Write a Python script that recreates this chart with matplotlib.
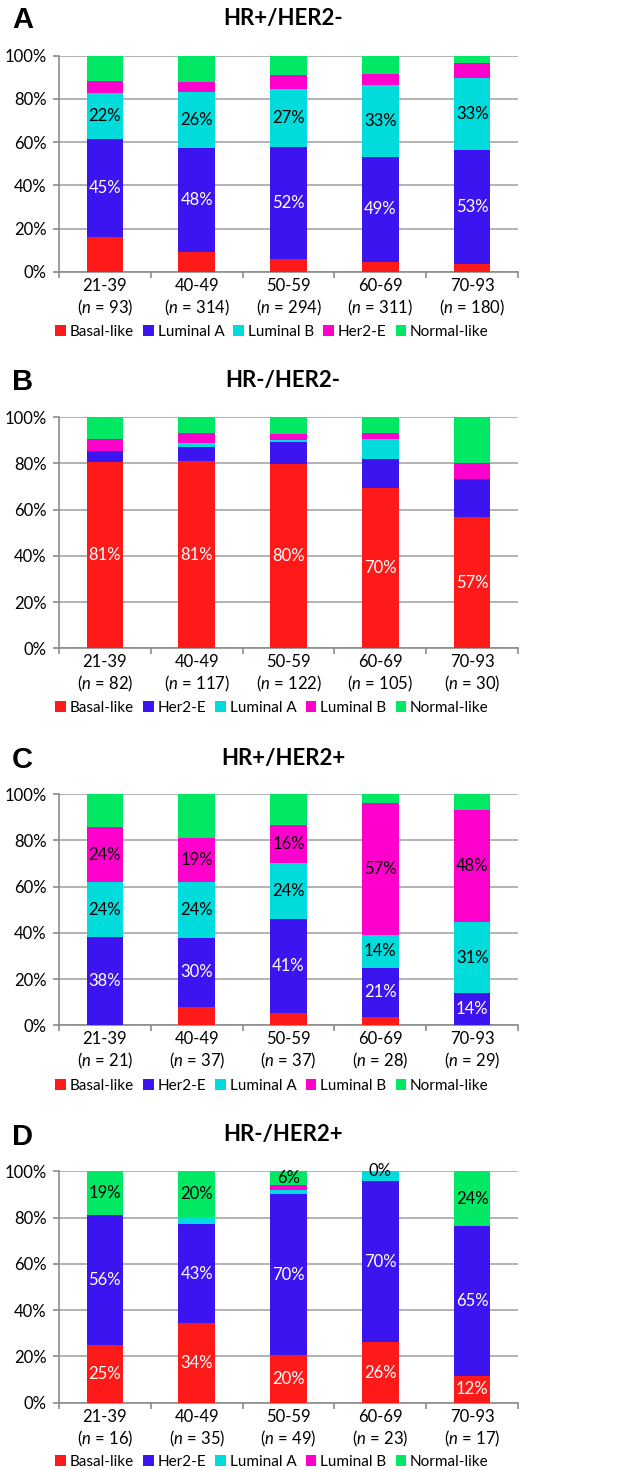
import numpy as np
import matplotlib
matplotlib.use("Agg")
import matplotlib.pyplot as plt
from matplotlib.patches import Patch

plt.rcParams['font.family'] = ['Lato', 'DejaVu Sans']
plt.rcParams['mathtext.fontset'] = 'custom'
plt.rcParams['mathtext.rm'] = 'Lato'
plt.rcParams['mathtext.it'] = 'Lato:italic'

ages = ["21-39", "40-49", "50-59", "60-69", "70-93"]

# panel A: HR+/HER2-
a_n = [93, 314, 294, 311, 180]
a_basal = [16.1, 9.2, 6.2, 4.5, 3.9]
a_luma = [45.2, 48.1, 51.6, 48.8, 52.7]
a_lumb = [21.6, 25.8, 26.8, 33.1, 33.1]
a_her2 = [5.4, 4.8, 6.6, 5.1, 7.1]
a_normal = [11.7, 12.1, 8.8, 8.5, 3.2]

# panel B: HR-/HER2-
b_n = [82, 117, 122, 105, 30]
b_basal = [80.6, 81.2, 79.6, 69.5, 56.7]
b_her2 = [4.8, 6.0, 9.7, 12.3, 16.7]
b_luma = [0, 1.7, 1.0, 8.7, 0]
b_lumb = [5.0, 4.3, 2.3, 2.9, 6.7]
b_normal = [9.6, 6.8, 7.4, 6.6, 19.9]

# panel C: HR+/HER2+
c_n = [21, 37, 37, 28, 29]
c_basal = [0, 8.1, 5.4, 3.6, 0]
c_her2 = [38.1, 29.7, 40.6, 21.4, 13.8]
c_luma = [23.8, 24.3, 24.3, 14.3, 31.0]
c_lumb = [23.8, 18.9, 16.2, 57.1, 48.3]
c_normal = [14.3, 19.0, 13.5, 3.6, 6.9]

# panel D: HR-/HER2+
d_n = [16, 35, 49, 23, 17]
d_basal = [25.0, 34.3, 20.4, 26.1, 11.7]
d_her2 = [56.2, 42.9, 69.6, 69.6, 64.7]
d_luma = [0, 2.9, 2.0, 4.3, 0]
d_lumb = [0, 0, 2.0, 0, 0]
d_normal = [18.8, 19.9, 6.0, 0, 23.6]

# colours differ between panel A and the others
fill_a = {"Basal-like": "#FF1A1A", "Luminal A": "#3C14F0", "Luminal B": "#00DCDC",
          "Her2-E": "#FF00CC", "Normal-like": "#00E864"}
fill_b = {"Basal-like": "#FF1A1A", "Her2-E": "#3C14F0", "Luminal A": "#00DCDC",
          "Luminal B": "#FF00CC", "Normal-like": "#00E864"}

panels = [
    ("A", "HR+/HER2-", a_n,
     [("Basal-like", a_basal), ("Luminal A", a_luma), ("Luminal B", a_lumb),
      ("Her2-E", a_her2), ("Normal-like", a_normal)],
     fill_a, ["Luminal A", "Luminal B"]),
    ("B", "HR-/HER2-", b_n,
     [("Basal-like", b_basal), ("Her2-E", b_her2), ("Luminal A", b_luma),
      ("Luminal B", b_lumb), ("Normal-like", b_normal)],
     fill_b, ["Basal-like"]),
    ("C", "HR+/HER2+", c_n,
     [("Basal-like", c_basal), ("Her2-E", c_her2), ("Luminal A", c_luma),
      ("Luminal B", c_lumb), ("Normal-like", c_normal)],
     fill_b, ["Her2-E", "Luminal A", "Luminal B"]),
    ("D", "HR-/HER2+", d_n,
     [("Basal-like", d_basal), ("Her2-E", d_her2), ("Luminal A", d_luma),
      ("Luminal B", d_lumb), ("Normal-like", d_normal)],
     fill_b, ["Basal-like", "Her2-E", "Normal-like"]),
]

# axes boxes in pixels: top, bottom
boxes = [(55.7, 272.0), (417.3, 648.3), (794.3, 1025.3), (1171.3, 1402.7)]
title_y = [18, 380, 758, 1135]
legend_y = [332, 708, 1086, 1462]

W, H = 630, 1470
fig = plt.figure(figsize=(W / 100, H / 100), dpi=100)

grid_c = "#A6A6A6"
axis_c = "#8C8C8C"
white_on = ("#FF1A1A", "#3C14F0")

for (letter, title, ns, series, fills, labelled), (top, bot), ty, ly in zip(panels, boxes, title_y, legend_y):
    ax = fig.add_axes([59 / W, 1 - bot / H, 459 / W, (bot - top) / H])
    x = np.arange(len(ages))
    bottom = np.zeros(len(ages))
    for name, vals in series:
        vals = np.array(vals, dtype=float)
        ax.bar(x, vals, 0.4, bottom=bottom, color=fills[name], zorder=3, linewidth=0)
        if name in labelled:
            tc = "white" if fills[name] in white_on else "black"
            for xi, b, v in zip(x, bottom, vals):
                ax.text(xi, b + v / 2, f"{v:.0f}%", ha="center", va="center",
                        fontsize=12, color=tc, zorder=4)
        bottom = bottom + vals

    ax.set_xlim(-0.5, len(ages) - 0.5)
    ax.set_ylim(0, 100)
    ax.set_yticks(np.arange(0, 101, 20))
    ax.set_yticklabels([f"{t}%" for t in range(0, 101, 20)], fontsize=12)
    ax.yaxis.grid(True, color=grid_c, linewidth=1.2, zorder=0)
    ax.set_xticks(x)
    ax.set_xticklabels([])
    for xi, a, n in zip(x, ages, ns):
        ax.annotate(a, xy=(xi, 0), xycoords=("data", "axes fraction"),
                    xytext=(0, -14), textcoords="offset pixels",
                    ha="center", va="center", fontsize=12)
        ax.annotate(f"($\\mathit{{n}}$ = {n})", xy=(xi, 0), xycoords=("data", "axes fraction"),
                    xytext=(0, -36), textcoords="offset pixels",
                    ha="center", va="center", fontsize=12)
    ax.set_xticks(np.arange(-0.5, len(ages)), minor=True)
    ax.tick_params(axis="x", which="major", length=0)
    ax.tick_params(axis="x", which="minor", length=4, color=axis_c, width=1.2)
    ax.tick_params(axis="y", length=4, color=axis_c, width=1.2, pad=5)
    for s in ("top", "right"):
        ax.spines[s].set_visible(False)
    for s in ("left", "bottom"):
        ax.spines[s].set_color(axis_c)
        ax.spines[s].set_linewidth(1.2)

    fig.text(283 / W, 1 - ty / H, title, ha="center", va="center",
             fontsize=16, fontweight="bold")
    fig.text(12 / W, 1 - (ty + 2) / H, letter, ha="left", va="center",
             fontsize=21, fontweight="bold", family="Liberation Sans")

    handles = [Patch(facecolor=fills[name], edgecolor="none", label=name) for name, _ in series]
    fig.legend(handles=handles, loc="center", bbox_to_anchor=(272 / W, 1 - ly / H),
               ncol=5, frameon=False, fontsize=11, handlelength=0.7,
               handleheight=0.7, handletextpad=0.25, columnspacing=0.6,
               borderpad=0, borderaxespad=0)

fig.savefig("out.png", dpi=100)
